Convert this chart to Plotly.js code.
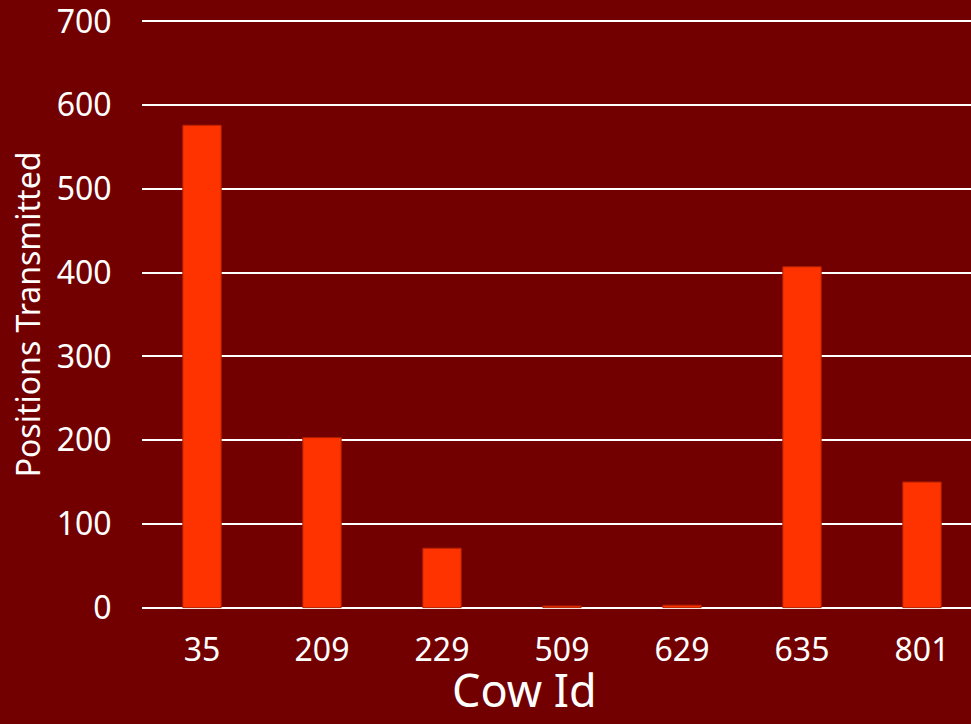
<!DOCTYPE html>
<html>
<head>
<meta charset="utf-8">
<script src="https://cdn.plot.ly/plotly-3.0.1.min.js"></script>
<style>
  html, body { margin: 0; padding: 0; overflow: hidden; background: #730000; }
  #chart { width: 982px; height: 724px; }
</style>
</head>
<body>
<div id="chart"></div>
<script>
// Positions transmitted per cow collar
const cowIds = ['35', '209', '229', '509', '629', '635', '801'];
const positions = [576, 203, 71, 2, 3, 407, 150];
const yTicks = [0, 100, 200, 300, 400, 500, 600, 700];

const FONT = 'Noto Sans, Liberation Sans, sans-serif';

const trace = {
  type: 'bar',
  x: cowIds,
  y: positions,
  marker: {
    color: '#FF3300',
    line: { color: '#B02000', width: 1 }
  },
  hoverinfo: 'x+y'
};

const layout = {
  width: 982,
  height: 724,
  paper_bgcolor: '#730000',
  plot_bgcolor: '#730000',
  margin: { l: 142, r: 0, t: 18, b: 113 },
  bargap: 0.68,
  showlegend: false,
  font: { family: FONT, color: '#FFFFFF', size: 32 },
  xaxis: {
    type: 'category',
    showgrid: false,
    zeroline: false,
    showline: false,
    ticks: 'outside',
    ticklen: 11,
    tickcolor: 'rgba(0,0,0,0)',
    tickfont: { family: FONT, size: 32, color: '#FFFFFF' },
    automargin: false
  },
  yaxis: {
    // a little padding so the 0 and 700 grid lines stay inside the plot
    range: [-4, 704],
    tickvals: yTicks,
    ticktext: yTicks.map(String),
    ticklabeloverflow: 'allow',
    showgrid: true,
    gridcolor: '#FFFFFF',
    gridwidth: 2,
    zeroline: true,
    zerolinecolor: '#FFFFFF',
    zerolinewidth: 2,
    showline: false,
    ticks: 'outside',
    ticklen: 23,
    tickcolor: 'rgba(0,0,0,0)',
    tickfont: { family: FONT, size: 32, color: '#FFFFFF' },
    title: { text: 'Positions Transmitted', font: { family: FONT, size: 32, color: '#FFFFFF' }, standoff: 6 },
    automargin: false
  },
  annotations: [{
    text: 'Cow Id',
    xref: 'paper', yref: 'paper',
    x: (524 - 142) / 840, y: -0.188,
    xanchor: 'center', yanchor: 'bottom',
    showarrow: false,
    font: { family: FONT, size: 45, color: '#FFFFFF' }
  }]
};

Plotly.newPlot('chart', [trace], layout, { displayModeBar: false, staticPlot: true });
</script>
</body>
</html>
